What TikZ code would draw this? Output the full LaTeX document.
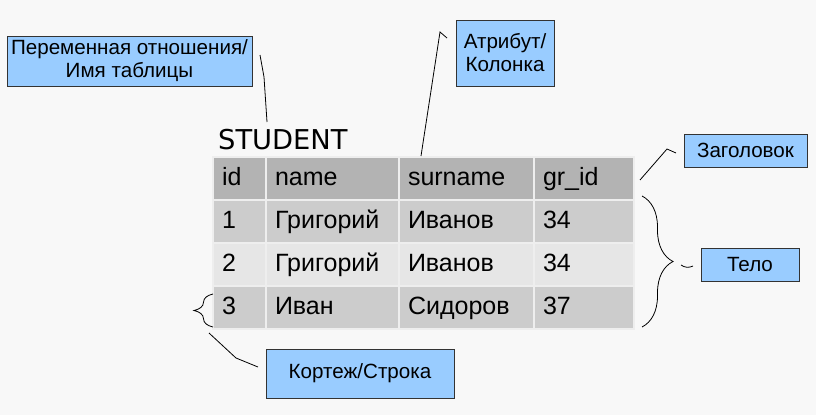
\documentclass[tikz,border=0pt]{standalone}
\usepackage{fontspec}
\setmainfont{Liberation Sans}
\newfontfamily\titlefont{DejaVu Sans}
\usetikzlibrary{decorations.pathreplacing}
\definecolor{bgcol}{HTML}{F8F8F8}
\definecolor{hdrfill}{HTML}{B3B3B3}
\definecolor{darkrow}{HTML}{CCCCCC}
\definecolor{lightrow}{HTML}{E6E6E6}
\definecolor{cellline}{HTML}{EEEEEE}
\definecolor{notefill}{HTML}{99CCFF}
\definecolor{noteline}{HTML}{333333}
\begin{document}
\begin{tikzpicture}[x=1pt,y=-1pt,
  cell/.style={draw=cellline,line width=2pt,minimum height=43pt,inner xsep=9pt,inner ysep=0pt,
    text height=17pt,text depth=4pt,align=left,font=\fontsize{25}{29}\selectfont},
  colid/.style={cell,text width=35pt},
  colname/.style={cell,text width=115pt},
  colsur/.style={cell,text width=117pt},
  colgr/.style={cell,text width=82pt},
  note/.style={draw=noteline,fill=notefill,line width=0.8pt,inner sep=0pt,align=center,
    font=\fontsize{20.6}{23}\selectfont},
  lead/.style={line width=0.8pt},
  brc/.style={line width=0.8pt,decorate,decoration={brace,amplitude=#1}}]
\fill[bgcol] (0,0) rectangle (816,415);
\useasboundingbox (0,0) rectangle (816,415);
% table
\node [anchor=base west,font=\titlefont\fontsize{27.3}{31}\selectfont,inner sep=0pt] (title) at (218,149) {STUDENT};
\node [colid,fill=hdrfill] (h1) at (239.5,178.5) {id};
\node [colname,fill=hdrfill] (h2) at (332.5,178.5) {name};
\node [colsur,fill=hdrfill] (h3) at (466.5,178.5) {surname};
\node [colgr,fill=hdrfill] (h4) at (584,178.5) {gr\_id};
\node [colid,fill=darkrow] (a1) at (239.5,221.5) {1};
\node [colname,fill=darkrow] (a2) at (332.5,221.5) {Григорий};
\node [colsur,fill=darkrow] (a3) at (466.5,221.5) {Иванов};
\node [colgr,fill=darkrow] (a4) at (584,221.5) {34};
\node [colid,fill=lightrow] (b1) at (239.5,264.5) {2};
\node [colname,fill=lightrow] (b2) at (332.5,264.5) {Григорий};
\node [colsur,fill=lightrow] (b3) at (466.5,264.5) {Иванов};
\node [colgr,fill=lightrow] (b4) at (584,264.5) {34};
\node [colid,fill=darkrow] (c1) at (239.5,307.5) {3};
\node [colname,fill=darkrow] (c2) at (332.5,307.5) {Иван};
\node [colsur,fill=darkrow] (c3) at (466.5,307.5) {Сидоров};
\node [colgr,fill=darkrow] (c4) at (584,307.5) {37};
% notes
\node [note,minimum width=245pt,minimum height=50pt] (varnote) at (129.5,61) {Переменная отношения/\\Имя таблицы};
\node [note,minimum width=98pt,minimum height=66pt] (attrnote) at (505,53) {Атрибут/\\Колонка};
\node [note,minimum width=123pt,minimum height=33pt] (headnote) at (745.5,150.5) {Заголовок};
\node [note,minimum width=98pt,minimum height=33pt] (bodynote) at (750,264.5) {Тело};
\node [note,minimum width=188pt,minimum height=49pt] (rownote) at (360,373.5) {Кортеж/Строка};
% braces
\coordinate (bodytop) at (642,196);
\coordinate (bodybot) at (642,327);
\coordinate (rowbot) at (213,327);
\coordinate (rowtop) at (213,294);
\draw[brc=31pt] (bodytop)--(bodybot);
\draw[brc=19pt] (rowbot)--(rowtop);
% leader lines
\coordinate (v1) at (260,55);
\coordinate (v2) at (264,77);
\coordinate (v3) at (267,122);
\draw[lead] (v1)--(v2)--(v3);
\coordinate (t1) at (447,38);
\coordinate (t2) at (440,32);
\coordinate (t3) at (421,156);
\draw[lead] (t1)--(t2)--(t3);
\coordinate (z1) at (676,153);
\coordinate (z2) at (667,149);
\coordinate (z3) at (640,180);
\draw[lead] (z1)--(z2)--(z3);
\coordinate (e1) at (681,265);
\coordinate (e2) at (693,266);
\draw[lead] (e1) to[bend right=30] (e2);
\coordinate (k1) at (258,367);
\coordinate (k2) at (236,358);
\coordinate (k3) at (209,333);
\draw[lead] (k1)--(k2)--(k3);
\end{tikzpicture}
\end{document}
